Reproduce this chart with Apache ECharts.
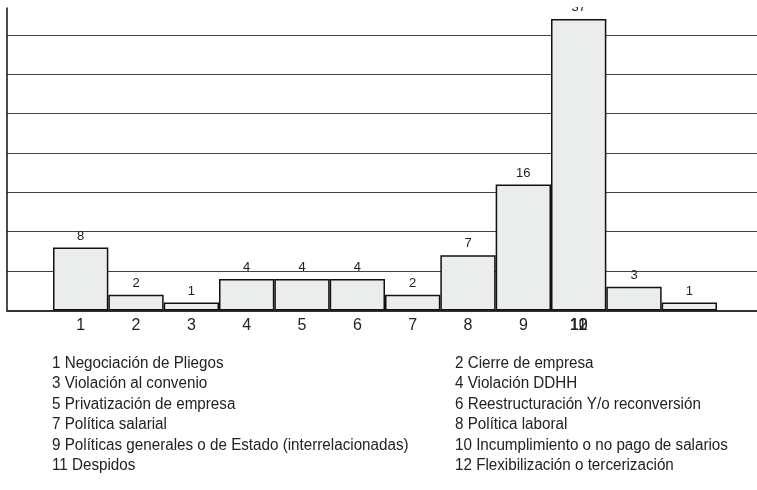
<!DOCTYPE html>
<html>
<head>
<meta charset="utf-8">
<script src="https://cdn.jsdelivr.net/npm/echarts@6/dist/echarts.min.js"></script>
<style>html,body{margin:0;padding:0;background:#fff;}#c{width:757px;height:490px;}</style>
</head>
<body>
<div id="c"></div>
<script>
const categories = ['1','2','3','4','5','6','7','8','9','10','11','12'];
const values = [8, 2, 1, 4, 4, 4, 2, 7, 16, 37, 3, 1];
// tick labels: which category slot each label is drawn under (10, 11, 12 all fall under slot 10 in the source)
const tickLabels = ['1','2','3','4','5','6','7','8','9','10','11','12'];
const tickSlot   = [0,1,2,3,4,5,6,7,8,9,9,9];
const legendItems = [
  '1 Negociación de Pliegos',
  '2 Cierre de empresa',
  '3 Violación al convenio',
  '4 Violación DDHH',
  '5 Privatización de empresa',
  '6 Reestructuración Y/o reconversión',
  '7 Política salarial',
  '8 Política laboral',
  '9 Políticas generales o de Estado (interrelacionadas)',
  '10 Incumplimiento o no pago de salarios',
  '11 Despidos',
  '12 Flexibilización o tercerización'
];
const yMin = 0, yMax = 38.4, yInterval = 5;

const FONT = '"Liberation Sans", Arial, sans-serif';
const chart = echarts.init(document.getElementById('c'), null, {renderer: 'canvas'});

// build label axes: axis k shows label k of each slot
const groups = [[], [], []];
tickLabels.forEach((t, i) => {
  const slot = tickSlot[i];
  let k = 0;
  while (groups[k][slot] !== undefined) k++;
  groups[k][slot] = t;
});
function labelAxis(k) {
  return {
    type: 'category', gridIndex: 1, data: categories, position: 'bottom',
    axisLine: {show: false}, axisTick: {show: false}, splitLine: {show: false},
    axisLabel: {
      interval: 0, margin: 7, fontSize: 16, color: '#222', fontFamily: FONT,
      formatter: (v, idx) => groups[k][idx] || ''
    }
  };
}

const legendTexts = legendItems.map((t, i) => ({
  type: 'text',
  left: (i % 2 === 0) ? 52 : 455,
  top: 355.5 + Math.floor(i / 2) * 20.4,
  scaleX: 0.95,
  style: {text: t, font: '16px ' + FONT, fill: '#222'}
}));

chart.setOption({
  animation: false,
  backgroundColor: '#fff',
  grid: [
    {left: 7, right: 0, top: 8, bottom: 179.5},
    {left: 53, right: 40, top: 8, bottom: 179.5}
  ],
  xAxis: [
    {type: 'value', gridIndex: 0, min: 0, max: 1,
     axisLine: {show: true, onZero: false, lineStyle: {color: '#333', width: 2}},
     axisTick: {show: false}, axisLabel: {show: false}, splitLine: {show: false}},
    labelAxis(0), labelAxis(1), labelAxis(2)
  ],
  yAxis: [
    {type: 'value', gridIndex: 0, min: yMin, max: yMax, interval: yInterval,
     axisLine: {show: true, lineStyle: {color: '#111', width: 1.5}},
     axisTick: {show: false}, axisLabel: {show: false},
     splitLine: {show: true, showMaxLine: false, lineStyle: {color: '#444', width: 1}}},
    {type: 'value', gridIndex: 1, min: yMin, max: yMax, interval: yInterval, show: false}
  ],
  series: [{
    type: 'bar', xAxisIndex: 1, yAxisIndex: 1, data: values,
    barCategoryGap: '0%',
    itemStyle: {color: '#ebecec', borderColor: '#111', borderWidth: 1.5},
    label: {show: true, position: 'top', distance: 5, fontSize: 13, color: '#222', fontFamily: FONT}
  }],
  graphic: [
    {type: 'rect', left: 0, top: 0, shape: {width: 757, height: 7}, style: {fill: '#fff'}, z: 100}
  ].concat(legendTexts)
});
</script>
</body>
</html>
